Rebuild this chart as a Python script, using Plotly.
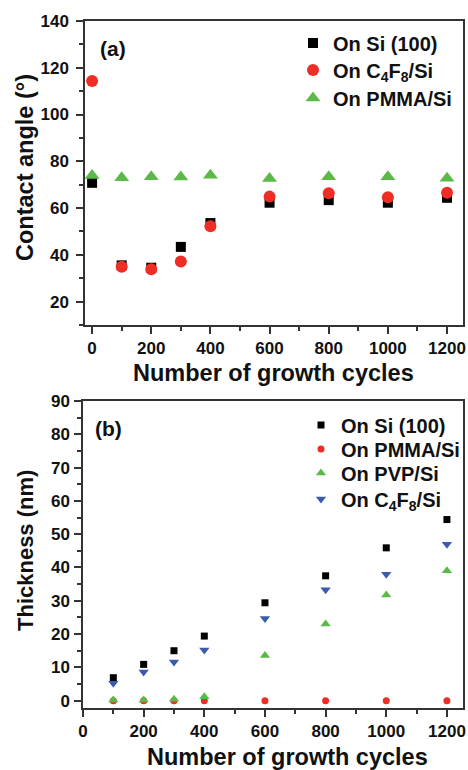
import plotly.graph_objects as go

# Panel (a): water contact angle vs. growth cycles
cycles_a = [0, 100, 200, 300, 400, 600, 800, 1000, 1200]
angle_si = [70.8, 35.5, 34.5, 43.4, 53.6, 62.3, 63.4, 62.3, 64.4]
angle_c4f8 = [114.3, 34.9, 33.8, 37.2, 52.2, 64.9, 66.3, 64.6, 66.6]
angle_pmma = [73.9, 73.0, 73.4, 73.3, 74.0, 72.6, 73.4, 73.4, 72.8]

# Panel (b): film thickness vs. growth cycles
cycles_b = [100, 200, 300, 400, 600, 800, 1000, 1200]
thick_si = [6.9, 10.9, 15.0, 19.4, 29.4, 37.5, 45.9, 54.4]
thick_pmma = [0, 0, 0, 0, 0, 0, 0, 0]
thick_pvp = [0.2, 0.2, 0.4, 1.2, 13.6, 23.0, 31.7, 39.0]
thick_c4f8 = [5.2, 8.6, 11.6, 15.2, 24.7, 33.3, 38.0, 47.0]

BLACK = "#000000"
RED = "#ee2e26"
GREEN = "#5ab947"
BLUE = "#3b5bab"
AXIS = "#333333"
FONT = "Liberation Sans, Arial, sans-serif"

W, H = 468, 770


def px_x(x):
    return x / W


def px_y(y):
    return 1 - y / H


# each legend entry gets its own legend box so rows can be spaced freely
series = [
    # name, x, y, symbol, size, color, axes, legend id, legend left px, row centre px
    ("On Si (100)", cycles_a, angle_si, "square", 10, BLACK, ("x", "y"), "legend", 293, 43),
    ("On C<sub>4</sub>F<sub>8</sub>/Si", cycles_a, angle_c4f8, "circle", 12, RED, ("x", "y"), "legend2", 293, 70),
    ("On PMMA/Si", cycles_a, angle_pmma, "triangle-up", 13, GREEN, ("x", "y"), "legend3", 293, 98),
    ("On Si (100)", cycles_b, thick_si, "square", 7, BLACK, ("x2", "y2"), "legend4", 301, 425),
    ("On PMMA/Si", cycles_b, thick_pmma, "circle", 7, RED, ("x2", "y2"), "legend5", 301, 449),
    ("On PVP/Si", cycles_b, thick_pvp, "triangle-up", 9, GREEN, ("x2", "y2"), "legend6", 301, 473),
    ("On C<sub>4</sub>F<sub>8</sub>/Si", cycles_b, thick_c4f8, "triangle-down", 9, BLUE, ("x2", "y2"), "legend7", 301, 499),
]

fig = go.Figure()
legend_layout = {}
legend_font = dict(family=FONT, size=20, color="#111111", weight="bold")
for name, xs, ys, sym, size, col, (xa, ya), leg, lx, ly in series:
    fig.add_trace(go.Scatter(x=xs, y=ys, mode="markers", name=name,
                             marker=dict(symbol=sym, size=size, color=col),
                             xaxis=xa, yaxis=ya, legend=leg))
    legend_layout[leg] = dict(x=px_x(lx), y=px_y(ly), xanchor="left", yanchor="middle",
                              bgcolor="rgba(0,0,0,0)", borderwidth=0, font=legend_font)

tickfont = dict(family=FONT, size=17, color="#111111", weight="bold")


def axis_style(**kw):
    d = dict(showline=True, linecolor=AXIS, linewidth=1.5, mirror=True,
             ticks="outside", ticklen=7, tickwidth=1.5, tickcolor=AXIS,
             showgrid=False, zeroline=False, tickfont=tickfont,
             automargin=False, fixedrange=True)
    d.update(kw)
    return d


fig.update_layout(
    width=W, height=H,
    margin=dict(l=0, r=0, t=0, b=0),
    paper_bgcolor="white", plot_bgcolor="white",
    font=dict(family=FONT, color="#111111"),
    xaxis=axis_style(domain=[px_x(85), px_x(463)], range=[-24, 1254], anchor="y",
                     tickmode="linear", tick0=0, dtick=200,
                     minor=dict(ticks="outside", ticklen=4, dtick=100, tick0=0,
                                tickwidth=1.5, tickcolor=AXIS)),
    yaxis=axis_style(domain=[px_y(325), px_y(21)], range=[10, 140], anchor="x",
                     tickmode="linear", tick0=0, dtick=20, ticklabelstandoff=4,
                     minor=dict(ticks="outside", ticklen=4, dtick=10, tick0=0,
                                tickwidth=1.5, tickcolor=AXIS)),
    xaxis2=axis_style(domain=[px_x(83), px_x(463)], range=[0, 1253], anchor="y2",
                      tickmode="linear", tick0=0, dtick=200,
                      minor=dict(ticks="outside", ticklen=4, dtick=100, tick0=0,
                                 tickwidth=1.5, tickcolor=AXIS)),
    yaxis2=axis_style(domain=[px_y(708), px_y(401)], range=[-2.2, 90], anchor="x2",
                      tickmode="linear", tick0=0, dtick=10, ticklabelstandoff=1,
                      minor=dict(ticks="outside", ticklen=4, dtick=5, tick0=0,
                                 tickwidth=1.5, tickcolor=AXIS)),
    showlegend=True,
    **legend_layout,
)

label_font = dict(family=FONT, size=21, color="#111111", weight="bold")


def title_font(size):
    return dict(family=FONT, size=size, color="#111111", weight="bold")


annotations = [
    dict(text="Contact angle (°)", x=px_x(25), y=px_y(168), textangle=-90, font=title_font(23.5)),
    dict(text="Thickness (nm)", x=px_x(25), y=px_y(551), textangle=-90, font=title_font(22)),
    dict(text="Number of growth cycles", x=px_x(273), y=px_y(373), font=title_font(23.5)),
    dict(text="Number of growth cycles", x=px_x(287), y=px_y(757), font=title_font(23.5)),
    dict(text="(a)", x=px_x(113), y=px_y(48), font=label_font),
    dict(text="(b)", x=px_x(108), y=px_y(428), font=label_font),
]
for a in annotations:
    a.update(xref="paper", yref="paper", showarrow=False, xanchor="center", yanchor="middle")
fig.update_layout(annotations=annotations)

fig.write_html("out.html")
